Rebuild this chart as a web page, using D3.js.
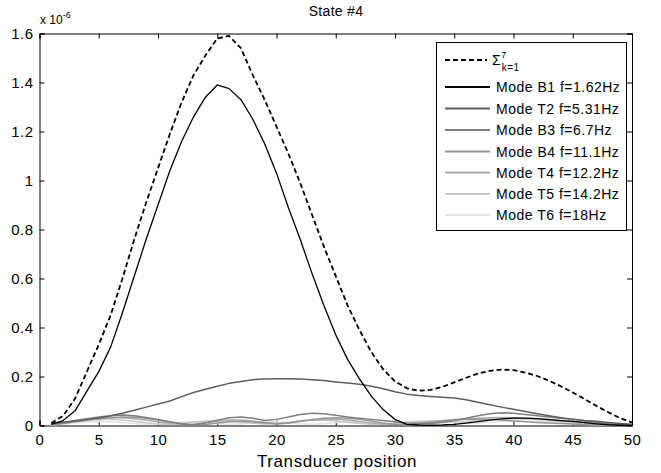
<!DOCTYPE html>
<html>
<head>
<meta charset="utf-8">
<script src="https://cdn.jsdelivr.net/npm/d3@7/dist/d3.min.js"></script>
<style>
  body { margin: 0; background: #fff; }
  svg { display: block; font-family: "Liberation Sans", Arial, sans-serif; }
</style>
</head>
<body>
<svg id="chart" width="661" height="473"></svg>
<script>
// Transducer positions 1..50
const positions = d3.range(1, 51);

// Modal amplitude contributions (x 1e-6)
const sumAll = [0.01,0.04,0.11,0.22,0.33,0.45,0.60,0.76,0.91,1.05,1.19,1.32,1.43,1.51,1.58,1.59,1.54,1.43,1.33,1.22,1.11,0.99,0.86,0.73,0.61,0.49,0.39,0.30,0.23,0.18,0.152,0.142,0.145,0.158,0.176,0.195,0.212,0.223,0.228,0.226,0.216,0.202,0.183,0.160,0.135,0.108,0.080,0.054,0.030,0.013];
const modeB1 = [0.005,0.02,0.06,0.14,0.22,0.32,0.46,0.61,0.76,0.90,1.04,1.16,1.26,1.34,1.39,1.375,1.33,1.25,1.15,1.03,0.89,0.76,0.62,0.49,0.37,0.27,0.19,0.12,0.065,0.025,0.005,0.002,0.001,0.002,0.005,0.010,0.016,0.022,0.027,0.030,0.030,0.028,0.024,0.020,0.017,0.012,0.007,0.003,0.001,0.0];
const modeT2 = [0.010,0.013,0.018,0.024,0.031,0.040,0.050,0.062,0.075,0.088,0.100,0.118,0.135,0.148,0.160,0.172,0.180,0.187,0.190,0.191,0.191,0.190,0.187,0.184,0.178,0.173,0.168,0.160,0.150,0.138,0.128,0.122,0.118,0.115,0.112,0.105,0.095,0.085,0.075,0.066,0.057,0.048,0.040,0.032,0.026,0.020,0.017,0.012,0.008,0.005];
const modeB3 = [0.005,0.012,0.020,0.028,0.035,0.040,0.043,0.040,0.033,0.025,0.015,0.007,0.002,0.010,0.022,0.032,0.035,0.030,0.020,0.025,0.035,0.045,0.050,0.048,0.042,0.035,0.030,0.025,0.020,0.015,0.010,0.008,0.008,0.012,0.020,0.030,0.040,0.048,0.052,0.050,0.045,0.040,0.035,0.030,0.025,0.018,0.012,0.007,0.003,0.001];
const modeB4 = [0.003,0.008,0.015,0.022,0.028,0.032,0.035,0.034,0.030,0.022,0.014,0.006,0.002,0.004,0.010,0.015,0.017,0.015,0.010,0.006,0.010,0.018,0.025,0.030,0.032,0.030,0.025,0.018,0.010,0.005,0.003,0.006,0.012,0.018,0.022,0.025,0.026,0.025,0.022,0.018,0.015,0.012,0.010,0.008,0.006,0.004,0.003,0.002,0.001,0.0];
const modeT4 = [0.004,0.010,0.018,0.025,0.030,0.033,0.032,0.028,0.022,0.015,0.008,0.004,0.006,0.012,0.018,0.022,0.022,0.018,0.012,0.008,0.010,0.016,0.022,0.026,0.026,0.022,0.016,0.010,0.006,0.004,0.006,0.010,0.015,0.020,0.024,0.027,0.030,0.032,0.033,0.032,0.030,0.027,0.024,0.020,0.016,0.012,0.008,0.005,0.003,0.001];
const modeT5 = [0.003,0.008,0.014,0.020,0.024,0.025,0.022,0.017,0.011,0.006,0.005,0.009,0.014,0.018,0.020,0.018,0.014,0.009,0.006,0.008,0.013,0.018,0.021,0.021,0.018,0.013,0.008,0.005,0.006,0.010,0.014,0.017,0.018,0.017,0.014,0.016,0.020,0.024,0.027,0.028,0.027,0.024,0.020,0.016,0.012,0.008,0.005,0.003,0.002,0.001];
const modeT6 = [0.002,0.006,0.010,0.014,0.016,0.015,0.012,0.008,0.005,0.006,0.010,0.013,0.014,0.012,0.008,0.005,0.007,0.011,0.014,0.014,0.011,0.007,0.005,0.008,0.012,0.014,0.013,0.010,0.006,0.005,0.008,0.011,0.013,0.013,0.011,0.008,0.010,0.013,0.016,0.018,0.018,0.016,0.013,0.010,0.007,0.005,0.003,0.002,0.001,0.0];

const seriesNames = ["\u03A3", "Mode B1 f=1.62Hz", "Mode T2 f=5.31Hz", "Mode B3 f=6.7Hz", "Mode B4 f=11.1Hz", "Mode T4 f=12.2Hz", "Mode T5 f=14.2Hz", "Mode T6 f=18Hz"];
const seriesValues = [sumAll, modeB1, modeT2, modeB3, modeB4, modeT4, modeT5, modeT6];
const seriesColors = ["#000000", "#000000", "#5e5e5e", "#7e7e7e", "#969696", "#ababab", "#c8c8c8", "#e4e4e4"];

const xTicks = [0, 5, 10, 15, 20, 25, 30, 35, 40, 45, 50];
const yTicks = [0, 0.2, 0.4, 0.6, 0.8, 1, 1.2, 1.4, 1.6];

const svg = d3.select("#chart");
const margin = { left: 39.5, right: 29, top: 33.5, bottom: 47.5 };
const W = 661, H = 473;

const x = d3.scaleLinear().domain([0, 50]).range([margin.left, W - margin.right]);
const y = d3.scaleLinear().domain([0, 1.6]).range([H - margin.bottom, margin.top]);

const tickFmt = d => (d === 0 ? "0" : String(d));

// Axes: ticks point inward, mirrored on top and right
const gx = svg.append("g").attr("transform", `translate(0,${y(0)})`)
  .call(d3.axisBottom(x).tickValues(xTicks).tickSize(-5).tickPadding(9).tickFormat(tickFmt));
const gxTop = svg.append("g").attr("transform", `translate(0,${y(1.6)})`)
  .call(d3.axisTop(x).tickValues(xTicks).tickSize(-5).tickFormat(""));
const gy = svg.append("g").attr("transform", `translate(${x(0)},0)`)
  .call(d3.axisLeft(y).tickValues(yTicks).tickSize(-5).tickPadding(6).tickFormat(tickFmt));
const gyRight = svg.append("g").attr("transform", `translate(${x(50)},0)`)
  .call(d3.axisRight(y).tickValues(yTicks).tickSize(-5).tickFormat(""));

[gx, gxTop, gy, gyRight].forEach(g => {
  g.selectAll(".domain").attr("stroke", "#000").attr("stroke-width", 1);
  g.selectAll(".tick line").attr("stroke", "#000");
  g.selectAll("text").attr("fill", "#000").style("font-size", "15px")
    .style("letter-spacing", "0.5px")
    .style("font-family", "'Liberation Sans', Arial, sans-serif");
});

// Series curves: lightest first so darker ones sit on top
const line = d3.line().x((d, i) => x(positions[i])).y(d => y(d));
const plot = svg.append("g");
for (let k = seriesValues.length - 1; k >= 0; k--) {
  plot.append("path")
    .datum(seriesValues[k])
    .attr("d", line)
    .attr("fill", "none")
    .attr("stroke", seriesColors[k])
    .attr("stroke-width", k === 0 ? 1.8 : (k === 1 ? 1.3 : 1.5))
    .attr("stroke-linejoin", "round")
    .attr("stroke-dasharray", k === 0 ? "5,3" : null);
}

// Title, axis label, exponent
svg.append("text").attr("x", 336).attr("y", 16).attr("text-anchor", "middle")
  .style("font-size", "14px").style("letter-spacing", "0.3px").text("State #4");
svg.append("text").attr("x", 337).attr("y", 467).attr("text-anchor", "middle")
  .style("font-size", "17px").style("letter-spacing", "0.6px").text("Transducer position");
const expo = svg.append("text").attr("x", 40).attr("y", 24).style("font-size", "12px");
expo.append("tspan").text("x 10");
expo.append("tspan").attr("dy", -6).style("font-size", "9px").text("-6");

// Legend
const lg = svg.append("g");
lg.append("rect").attr("x", 436.5).attr("y", 42.5).attr("width", 190).attr("height", 188)
  .attr("fill", "#fff").attr("stroke", "#000").attr("stroke-width", 1);
const rowY = [60, 87, 108.5, 130, 151.5, 172.5, 194, 215];
seriesNames.forEach((name, k) => {
  lg.append("line").attr("x1", 445).attr("x2", k === 0 ? 487 : 490)
    .attr("y1", rowY[k]).attr("y2", rowY[k])
    .attr("stroke", seriesColors[k]).attr("stroke-width", 2)
    .attr("stroke-dasharray", k === 0 ? "5,3" : null);
  const t = lg.append("text").attr("x", k === 0 ? 492 : 496).attr("y", rowY[k] + 5)
    .style("font-size", "14px").style("letter-spacing", "0.5px").attr("fill", "#000");
  if (k === 0) {
    t.append("tspan").text(name);
    t.append("tspan").attr("dy", -7).style("font-size", "9px").text("7");
    t.append("tspan").attr("dx", -5).attr("dy", 13).style("font-size", "10px").text("k=1");
  } else {
    t.text(name);
  }
});
</script>
</body>
</html>
